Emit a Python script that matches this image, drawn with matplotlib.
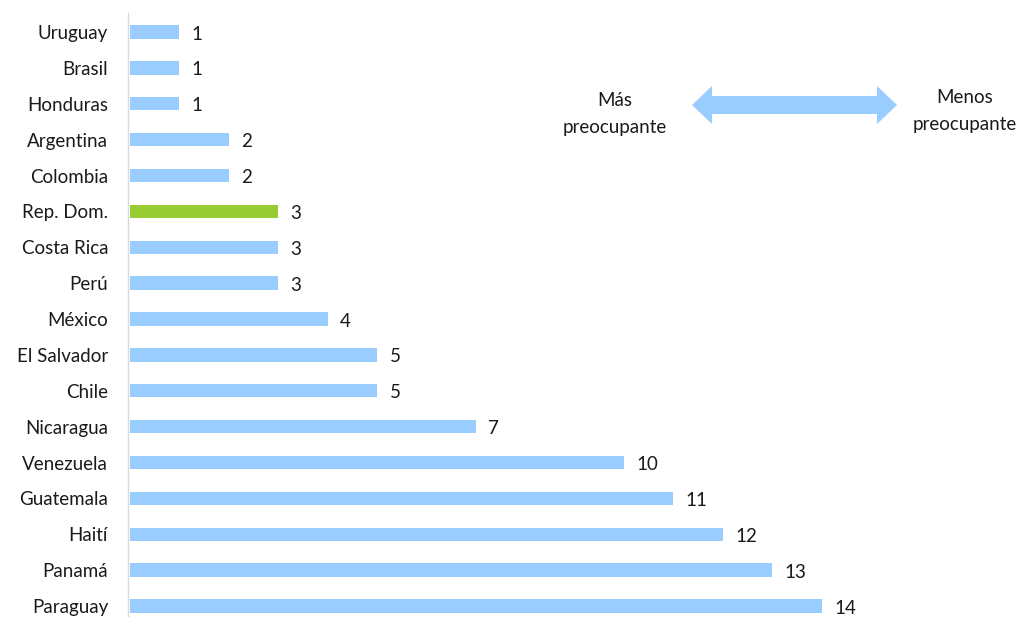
import matplotlib
matplotlib.use("Agg")
import matplotlib.pyplot as plt
from matplotlib.patches import Polygon

countries = ["Uruguay", "Brasil", "Honduras", "Argentina", "Colombia", "Rep. Dom.",
             "Costa Rica", "Perú", "México", "El Salvador", "Chile", "Nicaragua",
             "Venezuela", "Guatemala", "Haití", "Panamá", "Paraguay"]
values = [1, 1, 1, 2, 2, 3, 3, 3, 4, 5, 5, 7, 10, 11, 12, 13, 14]
highlight = "Rep. Dom."

plt.rcParams['font.family'] = ['Lato', 'DejaVu Sans']

W, H = 1023, 617
fig = plt.figure(figsize=(W / 100, H / 100), dpi=100)
ax_left = 128 / W
ax_top = 13
ax_bottom = 617
ax = fig.add_axes([ax_left, 0, (W - 128) / W, (ax_bottom - ax_top) / H])

blue = "#99CCFF"
green = "#99CC33"
txt = "#1a1a1a"
colors = [green if c == highlight else blue for c in countries]
pos = list(range(len(countries)))
ax.barh(pos, values, height=0.37, color=colors, left=0.04)

px_per_unit = 49.4
ax.set_xlim(0.0, (W - 128) / px_per_unit)
spacing = (606 - 32) / 16
ax.set_ylim(16 + (617 - 606) / spacing, -(32 - 13) / spacing)

ax.set_yticks(pos)
ax.set_yticklabels(countries, fontsize=13.5, color=txt)
ax.tick_params(axis='y', length=0, pad=14.4)
ax.set_xticks([])
for s in ["top", "right", "bottom"]:
    ax.spines[s].set_visible(False)
ax.spines["left"].set_color("#D9D9D9")
ax.spines["left"].set_linewidth(1.0)

for p, v in zip(pos, values):
    ax.annotate(str(v), xy=(v + 0.04, p), xytext=(9, -1.5), textcoords="offset points",
                va="center", ha="left", fontsize=13.5, color=txt)

# double-headed arrow (figure pixel coords -> fraction)
def f(x, y):
    return (x / W, 1 - y / H)

xl, xr, yc = 692, 897, 105
shaft, head, hl = 9, 19, 20
pts = [f(xl, yc), f(xl + hl, yc - head), f(xl + hl, yc - shaft), f(xr - hl, yc - shaft),
       f(xr - hl, yc - head), f(xr, yc), f(xr - hl, yc + head), f(xr - hl, yc + shaft),
       f(xl + hl, yc + shaft), f(xl + hl, yc + head)]
fig.patches.append(Polygon(pts, closed=True, transform=fig.transFigure,
                           facecolor=blue, edgecolor="none"))

fig.text(615 / W, 1 - 114 / H, "Más\npreocupante", ha="center", va="center",
         fontsize=13.5, color=txt, linespacing=1.75)
fig.text(965 / W, 1 - 111 / H, "Menos\npreocupante", ha="center", va="center",
         fontsize=13.5, color=txt, linespacing=1.75)

fig.savefig("out.png", dpi=100, facecolor="white")
